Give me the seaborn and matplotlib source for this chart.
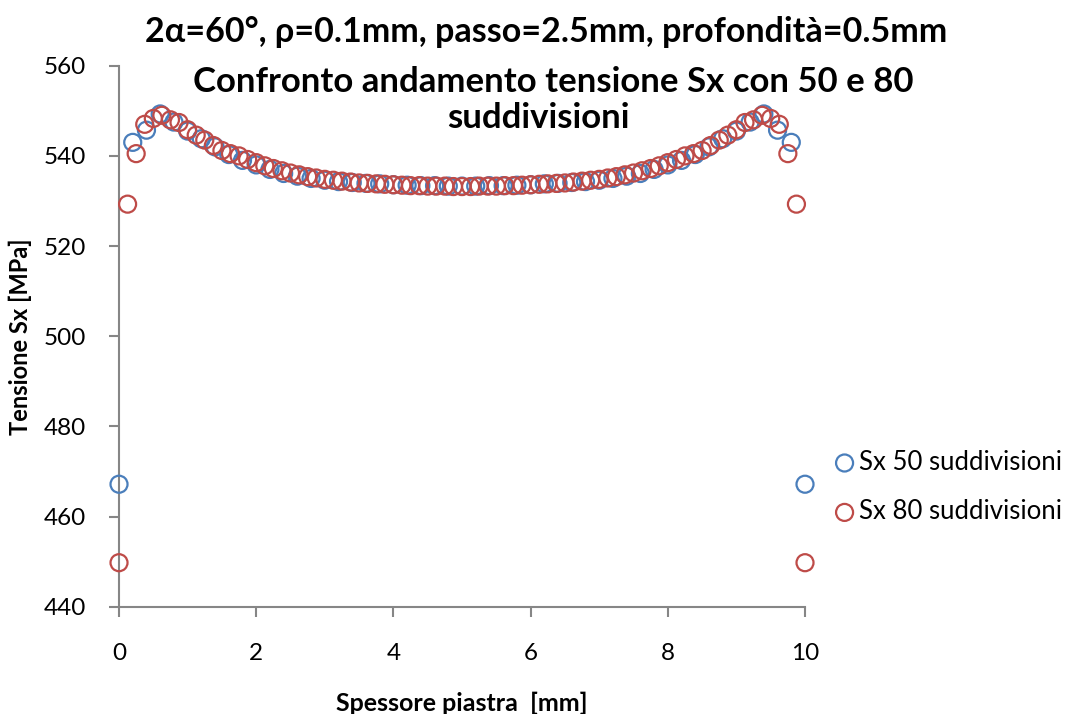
import matplotlib
matplotlib.use("Agg")
import matplotlib.pyplot as plt
import seaborn as sns
import pandas as pd

# ---- data ----
x50 = [0.0, 0.2, 0.4, 0.6, 0.8, 1.0, 1.2, 1.4, 1.6, 1.8, 2.0, 2.2, 2.4, 2.6, 2.8, 3.0,
       3.2, 3.4, 3.6, 3.8, 4.0, 4.2, 4.4, 4.6, 4.8, 5.0, 5.2, 5.4, 5.6, 5.8, 6.0, 6.2,
       6.4, 6.6, 6.8, 7.0, 7.2, 7.4, 7.6, 7.8, 8.0, 8.2, 8.4, 8.6, 8.8, 9.0, 9.2, 9.4,
       9.6, 9.8, 10.0]
sx50 = [467.2, 543.0, 545.7, 549.3, 547.5, 545.5, 543.8, 542.0, 540.3, 539.0, 538.0,
        537.0, 536.1, 535.5, 535.0, 534.6, 534.3, 534.1, 533.9, 533.8, 533.6, 533.5,
        533.4, 533.4, 533.3, 533.3, 533.3, 533.4, 533.4, 533.5, 533.6, 533.8, 533.9,
        534.1, 534.3, 534.6, 535.0, 535.5, 536.1, 537.0, 538.0, 539.0, 540.3, 542.0,
        543.8, 545.5, 547.5, 549.3, 545.7, 543.0, 467.2]

x80 = [0.0, 0.125, 0.25, 0.375, 0.5, 0.625, 0.75, 0.875, 1.0, 1.125, 1.25, 1.375, 1.5,
       1.625, 1.75, 1.875, 2.0, 2.125, 2.25, 2.375, 2.5, 2.625, 2.75, 2.875, 3.0, 3.125,
       3.25, 3.375, 3.5, 3.625, 3.75, 3.875, 4.0, 4.125, 4.25, 4.375, 4.5, 4.625, 4.75,
       4.875, 5.0, 5.125, 5.25, 5.375, 5.5, 5.625, 5.75, 5.875, 6.0, 6.125, 6.25, 6.375,
       6.5, 6.625, 6.75, 6.875, 7.0, 7.125, 7.25, 7.375, 7.5, 7.625, 7.75, 7.875, 8.0,
       8.125, 8.25, 8.375, 8.5, 8.625, 8.75, 8.875, 9.0, 9.125, 9.25, 9.375, 9.5, 9.625,
       9.75, 9.875, 10.0]
sx80 = [449.8, 529.3, 540.5, 547.0, 548.3, 549.0, 548.0, 547.4, 545.8, 544.6, 543.5,
        542.3, 541.2, 540.5, 540.0, 539.2, 538.5, 537.8, 537.2, 536.7, 536.2, 535.8,
        535.4, 535.1, 534.8, 534.6, 534.4, 534.2, 534.0, 533.9, 533.8, 533.7, 533.6,
        533.5, 533.4, 533.4, 533.3, 533.3, 533.3, 533.2, 533.2, 533.2, 533.3, 533.3,
        533.3, 533.4, 533.4, 533.5, 533.6, 533.7, 533.8, 533.9, 534.0, 534.2, 534.4,
        534.6, 534.8, 535.1, 535.4, 535.8, 536.2, 536.7, 537.2, 537.8, 538.5, 539.2,
        540.0, 540.5, 541.2, 542.3, 543.5, 544.6, 545.8, 547.4, 548.0, 549.0, 548.3,
        547.0, 540.5, 529.3, 449.8]

labels = ["Sx 50 suddivisioni", "Sx 80 suddivisioni"]
colors = ["#4a7ebb", "#be4b48"]
x_ticks = [0, 2, 4, 6, 8, 10]
y_ticks = [440, 460, 480, 500, 520, 540, 560]

title1 = "2α=60°, ρ=0.1mm, passo=2.5mm, profondità=0.5mm"
title2 = "Confronto andamento tensione Sx con 50 e 80"
title3 = "suddivisioni"
xlabel = "Spessore piastra  [mm]"
ylabel = "Tensione Sx [MPa]"

df50 = pd.DataFrame({"x": x50, "y": sx50})
df80 = pd.DataFrame({"x": x80, "y": sx80})

# ---- style ----
sns.set_theme(style="white")
plt.rcParams["font.family"] = ["Lato", "DejaVu Sans"]
plt.rcParams["text.color"] = "black"
plt.rcParams["axes.labelcolor"] = "black"

fig = plt.figure(figsize=(10.82, 7.14), dpi=100)
ax = fig.add_axes([0.110, 0.150, 0.634, 0.758])

for df, lab, col in [(df50, labels[0], colors[0]), (df80, labels[1], colors[1])]:
    sns.scatterplot(data=df, x="x", y="y", ax=ax, color=col, label=lab,
                    marker="o", s=150, facecolor="none", edgecolor=col,
                    linewidth=1.6, zorder=3, clip_on=False)

ax.set_xlim(0, 10)
ax.set_ylim(440, 560)
ax.set_xticks(x_ticks)
ax.set_yticks(y_ticks)
ax.set_xticklabels([str(v) for v in x_ticks])
ax.set_yticklabels([str(v) for v in y_ticks])
for s in ["top", "right"]:
    ax.spines[s].set_visible(False)
for s in ["left", "bottom"]:
    ax.spines[s].set_color("#868686")
    ax.spines[s].set_linewidth(1.5)
ax.tick_params(axis="both", which="major", direction="out", length=7, width=1.5,
               color="#868686", labelsize=17.5, labelcolor="black",
               bottom=True, left=True)
ax.tick_params(axis="x", pad=19)
ax.tick_params(axis="y", pad=17)
ax.set_xlabel("")
ax.set_ylabel("")
ax.legend_.remove()

fig.text(0.427, 0.0155, xlabel, ha="center", va="center", fontsize=18, fontweight="bold")
fig.text(0.019, 0.529, ylabel, ha="center", va="center", rotation=90, fontsize=17,
         fontweight="bold")

fig.text(0.505, 0.955, title1, ha="center", va="center", fontsize=24.5, fontweight="bold")
fig.text(0.511, 0.885, title2, ha="center", va="center", fontsize=25, fontweight="bold")
fig.text(0.498, 0.835, title3, ha="center", va="center", fontsize=25, fontweight="bold")

handles, labs = ax.get_legend_handles_labels()
fig.legend(handles, labs, loc="center left", bbox_to_anchor=(0.758, 0.318),
           frameon=False, fontsize=18.5, labelspacing=0.95, handletextpad=0.1,
           handlelength=0.9, markerscale=1.0, borderpad=0)

fig.savefig("out.png", dpi=100)
